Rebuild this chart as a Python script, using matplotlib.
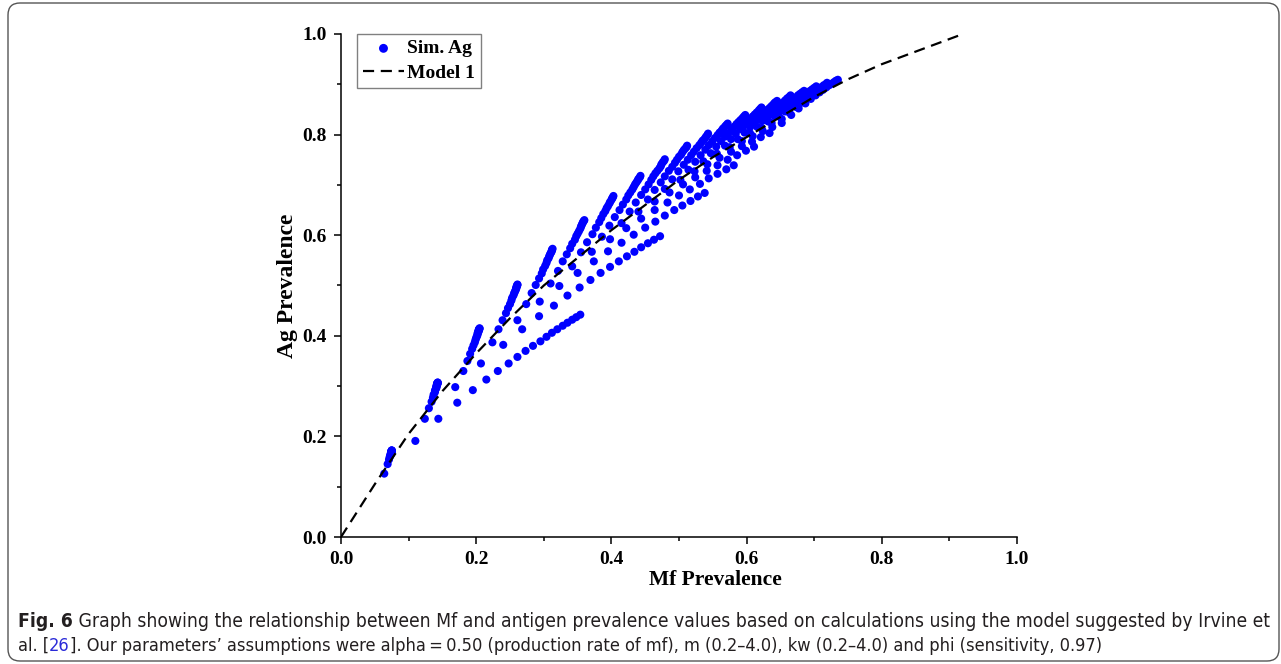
import numpy as np
import matplotlib
matplotlib.use('Agg')
import matplotlib.pyplot as plt
from matplotlib.ticker import MultipleLocator
from matplotlib.patches import FancyBboxPatch
from matplotlib import font_manager as fm

# ---------------- data (prevalence values, per mille) ----------------
# one list per mean worm burden m; entries follow kw = 0.2, 0.4, ..., 4.0
m_values = [0.2, 0.4, 0.6, 0.8, 1.0, 1.2, 1.4, 1.6, 1.8, 2.0,
            2.2, 2.4, 2.6, 2.8, 3.0, 3.2, 3.4, 3.6, 3.8, 4.0]
kw_values = [0.2, 0.4, 0.6, 0.8, 1.0, 1.2, 1.4, 1.6, 1.8, 2.0,
             2.2, 2.4, 2.6, 2.8, 3.0, 3.2, 3.4, 3.6, 3.8, 4.0]

# Mf prevalence (x)
mf_m0_2 = [64, 69, 71, 72, 73, 73, 74, 74, 74, 74, 74, 75, 75, 75, 75, 75, 75, 75, 75, 75]
mf_m0_4 = [110, 124, 130, 134, 136, 137, 139, 139, 140, 141, 141, 141, 142, 142, 142, 142, 143, 143, 143, 143]
mf_m0_6 = [144, 169, 181, 187, 191, 194, 196, 198, 199, 200, 201, 202, 202, 203, 203, 204, 204, 204, 205, 205]
mf_m0_8 = [172, 207, 224, 233, 239, 244, 247, 250, 252, 253, 255, 256, 257, 258, 259, 259, 260, 260, 261, 261]
mf_m1_0 = [195, 240, 261, 274, 282, 288, 293, 297, 299, 302, 304, 305, 307, 308, 309, 310, 311, 312, 312, 313]
mf_m1_2 = [215, 268, 294, 310, 321, 328, 334, 339, 342, 346, 348, 350, 352, 354, 355, 356, 357, 358, 359, 360]
mf_m1_4 = [232, 293, 323, 342, 355, 364, 372, 377, 382, 385, 388, 391, 393, 395, 397, 398, 400, 401, 402, 403]
mf_m1_6 = [248, 315, 350, 371, 386, 397, 405, 412, 417, 422, 425, 428, 431, 433, 435, 437, 439, 440, 442, 443]
mf_m1_8 = [261, 335, 374, 398, 415, 427, 436, 444, 450, 455, 459, 462, 465, 468, 471, 473, 474, 476, 478, 479]
mf_m2_0 = [273, 353, 395, 422, 440, 454, 464, 473, 479, 485, 490, 494, 497, 500, 503, 505, 507, 509, 511, 512]
mf_m2_2 = [284, 369, 415, 444, 464, 479, 490, 499, 507, 513, 518, 522, 526, 530, 533, 535, 538, 540, 542, 543]
mf_m2_4 = [295, 384, 433, 464, 486, 502, 514, 524, 532, 539, 544, 549, 553, 557, 560, 563, 565, 568, 570, 572]
mf_m2_6 = [304, 398, 450, 483, 506, 523, 536, 547, 555, 562, 568, 573, 578, 582, 585, 588, 591, 594, 596, 598]
mf_m2_8 = [312, 411, 465, 500, 524, 542, 556, 568, 577, 584, 591, 596, 601, 605, 609, 612, 615, 618, 620, 622]
mf_m3_0 = [320, 423, 479, 516, 541, 560, 575, 587, 597, 605, 611, 617, 622, 627, 630, 634, 637, 640, 642, 645]
mf_m3_2 = [328, 434, 493, 531, 557, 577, 593, 605, 615, 623, 631, 637, 642, 646, 651, 654, 657, 660, 663, 665]
mf_m3_4 = [335, 444, 505, 544, 572, 593, 609, 622, 632, 641, 648, 655, 660, 665, 669, 673, 676, 679, 682, 685]
mf_m3_6 = [342, 454, 517, 557, 586, 608, 624, 637, 648, 657, 665, 672, 677, 682, 687, 690, 694, 697, 700, 703]
mf_m3_8 = [348, 463, 528, 570, 599, 621, 638, 652, 663, 673, 680, 687, 693, 698, 703, 707, 710, 714, 717, 719]
mf_m4_0 = [354, 472, 538, 581, 611, 634, 652, 666, 677, 687, 695, 702, 708, 713, 718, 722, 726, 729, 732, 735]

# Ag prevalence (y)
ag_m0_2 = [126, 145, 154, 159, 162, 164, 165, 167, 168, 168, 169, 170, 170, 170, 171, 171, 171, 172, 172, 172]
ag_m0_4 = [191, 235, 256, 269, 277, 283, 288, 291, 294, 296, 298, 300, 301, 303, 304, 305, 305, 306, 307, 307]
ag_m0_6 = [235, 298, 330, 350, 364, 374, 381, 387, 392, 396, 399, 402, 405, 407, 409, 410, 412, 413, 414, 415]
ag_m0_8 = [267, 345, 387, 413, 431, 445, 455, 463, 470, 475, 480, 484, 487, 490, 493, 495, 497, 499, 501, 502]
ag_m1_0 = [292, 382, 431, 463, 485, 501, 514, 524, 532, 539, 545, 550, 554, 558, 561, 564, 566, 569, 571, 573]
ag_m1_2 = [313, 413, 468, 504, 529, 548, 562, 574, 583, 591, 598, 603, 608, 613, 617, 620, 623, 626, 628, 630]
ag_m1_4 = [330, 439, 499, 538, 566, 586, 602, 615, 626, 634, 642, 648, 654, 658, 663, 666, 670, 673, 675, 678]
ag_m1_6 = [345, 460, 525, 567, 597, 619, 636, 650, 661, 671, 679, 685, 691, 696, 701, 705, 709, 712, 715, 718]
ag_m1_8 = [358, 480, 548, 592, 624, 647, 665, 680, 691, 701, 710, 717, 723, 728, 733, 737, 741, 745, 748, 751]
ag_m2_0 = [370, 496, 568, 614, 647, 671, 690, 705, 717, 728, 736, 744, 750, 756, 760, 765, 769, 772, 775, 778]
ag_m2_2 = [380, 511, 585, 633, 667, 692, 711, 727, 740, 750, 759, 766, 773, 779, 784, 788, 792, 796, 799, 802]
ag_m2_4 = [389, 525, 601, 650, 685, 710, 730, 746, 759, 770, 779, 786, 793, 799, 804, 808, 812, 816, 819, 822]
ag_m2_6 = [398, 537, 615, 665, 701, 727, 747, 763, 776, 787, 796, 803, 810, 816, 821, 825, 829, 833, 836, 839]
ag_m2_8 = [406, 548, 627, 679, 715, 741, 762, 778, 791, 802, 811, 818, 825, 831, 836, 840, 844, 848, 851, 854]
ag_m3_0 = [413, 558, 639, 691, 728, 754, 775, 791, 804, 815, 824, 831, 838, 844, 849, 853, 857, 861, 864, 867]
ag_m3_2 = [420, 567, 650, 702, 739, 766, 787, 803, 816, 827, 835, 843, 850, 855, 860, 864, 868, 872, 875, 878]
ag_m3_4 = [426, 576, 659, 713, 750, 777, 797, 813, 826, 837, 846, 853, 860, 865, 870, 874, 878, 881, 884, 887]
ag_m3_6 = [432, 584, 668, 722, 759, 786, 807, 823, 836, 846, 855, 862, 869, 874, 879, 883, 887, 890, 893, 896]
ag_m3_8 = [437, 591, 677, 731, 768, 795, 815, 831, 844, 855, 863, 871, 877, 882, 887, 891, 894, 898, 900, 903]
ag_m4_0 = [442, 598, 684, 739, 776, 803, 823, 839, 852, 862, 871, 878, 884, 889, 894, 898, 901, 904, 907, 909]

# Model 1 curve (Mf prevalence, Ag prevalence)
model_x = [0.0, 0.05, 0.10, 0.15, 0.20, 0.25, 0.30, 0.35, 0.40, 0.45, 0.50,
           0.55, 0.60, 0.65, 0.70, 0.75, 0.80, 0.85, 0.92]
model_y = [0.0, 0.105, 0.205, 0.29, 0.365, 0.435, 0.50, 0.555, 0.61, 0.66, 0.71,
           0.755, 0.795, 0.835, 0.875, 0.91, 0.94, 0.965, 1.0]

x_ticks = [0.0, 0.2, 0.4, 0.6, 0.8, 1.0]
y_ticks = [0.0, 0.2, 0.4, 0.6, 0.8, 1.0]
x_label = 'Mf Prevalence'
y_label = 'Ag Prevalence'
legend_labels = ['Sim. Ag', 'Model 1']

TEXT_DARK = '#231f20'
LINK_BLUE = '#2a2ad8'
caption_1 = [('Fig. 6', 'bold', TEXT_DARK),
             (' Graph showing the relationship between Mf and antigen prevalence values '
              'based on calculations using the model suggested by Irvine et', 'normal', TEXT_DARK)]
caption_2 = [('al. [', 'normal', TEXT_DARK), ('26', 'normal', LINK_BLUE),
             ('].\u00a0Our parameters\u2019 assumptions were alpha\u2009=\u20090.50 (production rate of mf), '
              'm (0.2\u20134.0), kw (0.2\u20134.0) and phi (sensitivity, 0.97)', 'normal', TEXT_DARK)]

# ---------------- figure ----------------
mf_series = [mf_m0_2, mf_m0_4, mf_m0_6, mf_m0_8, mf_m1_0, mf_m1_2, mf_m1_4, mf_m1_6, mf_m1_8, mf_m2_0,
             mf_m2_2, mf_m2_4, mf_m2_6, mf_m2_8, mf_m3_0, mf_m3_2, mf_m3_4, mf_m3_6, mf_m3_8, mf_m4_0]
ag_series = [ag_m0_2, ag_m0_4, ag_m0_6, ag_m0_8, ag_m1_0, ag_m1_2, ag_m1_4, ag_m1_6, ag_m1_8, ag_m2_0,
             ag_m2_2, ag_m2_4, ag_m2_6, ag_m2_8, ag_m3_0, ag_m3_2, ag_m3_4, ag_m3_6, ag_m3_8, ag_m4_0]
mf_all = np.array(mf_series, dtype=float).ravel() / 1000.0
ag_all = np.array(ag_series, dtype=float).ravel() / 1000.0


def pick_caption_font():
    for fam, stretch in (('Liberation Sans Narrow', 'normal'), ('DejaVu Sans', 'condensed')):
        try:
            path = fm.findfont(fm.FontProperties(family=fam, stretch=stretch),
                               fallback_to_default=False)
        except Exception:
            continue
        if 'Narrow' in path or 'Condensed' in path:
            return fam, stretch
    return 'Liberation Sans', 'normal'


cap_family, cap_stretch = pick_caption_font()

W, H = 1281, 664
fig = plt.figure(figsize=(W / 100, H / 100), dpi=100)
fig.patch.set_facecolor('white')

serif = ['Liberation Serif', 'DejaVu Serif']

ax = fig.add_axes([341 / W, 1 - 537 / H, 676 / W, 503 / H])
ax.scatter(mf_all, ag_all, s=34, c='#0000ff', edgecolors='none',
           label=legend_labels[0], zorder=3)
ax.plot(model_x, model_y, color='black', lw=1.6, ls=(0, (5, 3)),
        label=legend_labels[1], zorder=4)
ax.set_xlim(0, 1)
ax.set_ylim(0, 1)
for s in ('top', 'right'):
    ax.spines[s].set_visible(False)
for s in ('left', 'bottom'):
    ax.spines[s].set_linewidth(1.1)
ax.set_xticks(x_ticks)
ax.set_yticks(y_ticks)
ax.xaxis.set_minor_locator(MultipleLocator(0.1))
ax.yaxis.set_minor_locator(MultipleLocator(0.1))
ax.tick_params(which='major', direction='out', length=5, width=1.1, pad=5)
ax.tick_params(which='minor', direction='out', length=3, width=1.1)
ax.set_xticklabels(['%.1f' % v for v in x_ticks])
ax.set_yticklabels(['%.1f' % v for v in y_ticks])
for lab in ax.get_xticklabels() + ax.get_yticklabels():
    lab.set_fontfamily(serif)
    lab.set_fontweight('bold')
    lab.set_fontsize(14)
ax.set_xlabel(x_label, fontfamily=serif, fontweight='bold', fontsize=15.5)
ax.xaxis.set_label_coords((715 - 341) / 676, -0.065)
ax.set_ylabel(y_label, fontfamily=serif, fontweight='bold', fontsize=17, labelpad=3)

leg = ax.legend(loc='upper left', bbox_to_anchor=(0.024, 1.0), borderaxespad=0,
                frameon=True, fancybox=False, framealpha=1, edgecolor='#808080',
                prop={'family': serif, 'weight': 'bold', 'size': 14},
                handlelength=2.1, handletextpad=0.15, borderpad=0.3,
                labelspacing=0.34, scatterpoints=1, markerscale=1.1)
leg.get_frame().set_linewidth(1.0)

# outer rounded frame
frame = FancyBboxPatch((8, 3), 1271, 658, boxstyle='round,pad=0,rounding_size=12',
                       transform=None, facecolor='none', edgecolor='#555555', lw=1.0)
fig.patches.append(frame)

# caption
renderer = fig.canvas.get_renderer()


def fit_size(pieces, target_px):
    probe = fig.text(0, 0, ''.join(p[0] for p in pieces), fontsize=10,
                     family=cap_family, stretch=cap_stretch)
    w10 = probe.get_window_extent(renderer=renderer).width
    probe.remove()
    return 10 * target_px / w10


def draw_line(pieces, x_px, base_px, size):
    x = x_px
    for txt, weight, color in pieces:
        t = fig.text(x / W, 1 - base_px / H, txt, fontsize=size, fontweight=weight,
                     color=color, family=cap_family, stretch=cap_stretch,
                     ha='left', va='baseline')
        x += t.get_window_extent(renderer=renderer).width


size_1 = fit_size(caption_1, 1244.0)
size_2 = min(size_1, fit_size(caption_2, 1090.0))
draw_line(caption_1, 18, 627, size_1)
draw_line(caption_2, 18, 651, size_2)

fig.savefig('out.png', dpi=100)
